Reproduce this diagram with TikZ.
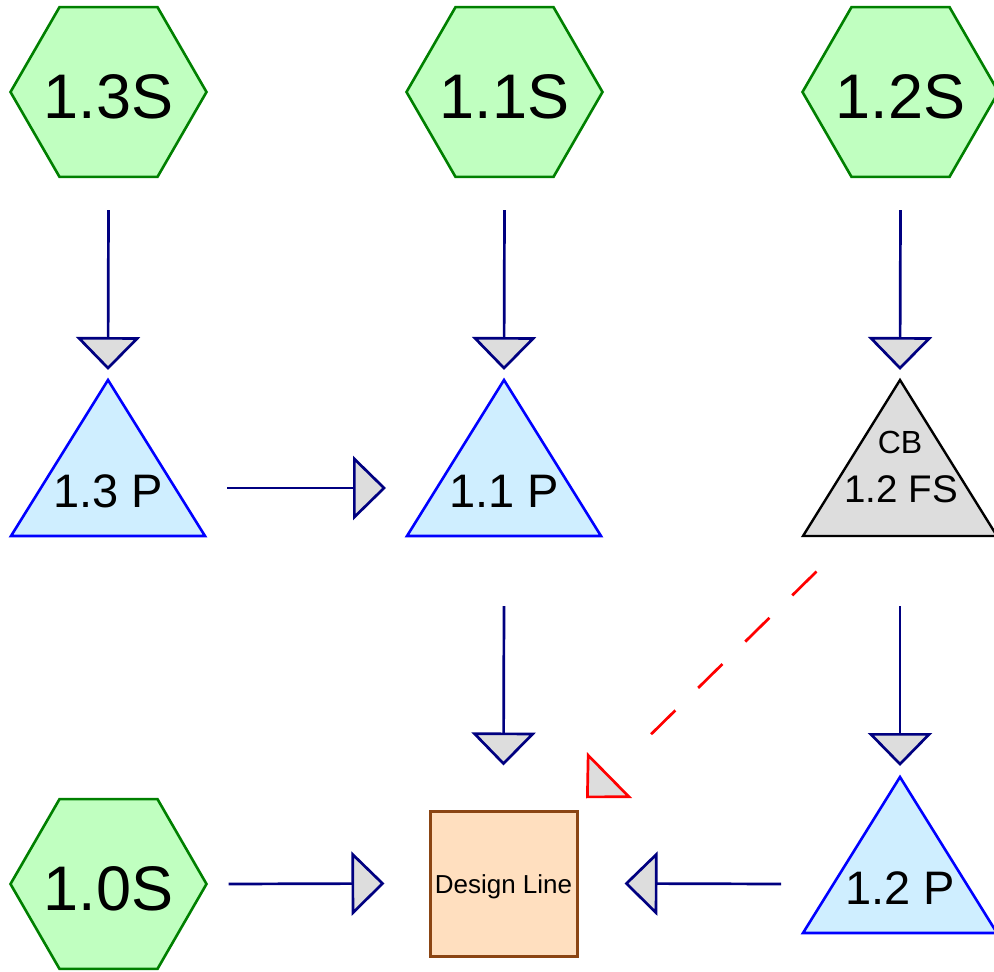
\documentclass[tikz,border=0pt]{standalone}
\usepackage{fontspec}
\setmainfont{Liberation Sans}
\usetikzlibrary{shapes.geometric,arrows.meta,calc}

\definecolor{hexfill}{HTML}{C0FFC0}
\definecolor{hexline}{HTML}{008000}
\definecolor{pfill}{HTML}{CFEEFF}
\definecolor{pline}{HTML}{0000FF}
\definecolor{cbfill}{HTML}{DDDDDD}
\definecolor{headfill}{HTML}{DDDDDD}
\definecolor{flowline}{HTML}{000080}
\definecolor{boxfill}{HTML}{FFDFBF}
\definecolor{boxline}{HTML}{8B4513}

% hexagon label: zero-width box so the polygon size is set by minimum size alone
\newcommand{\sitelabel}[1]{\makebox[0pt]{#1}}

\tikzset{
  site/.style={regular polygon, regular polygon sides=6, minimum size=196pt,
    inner sep=0pt, draw=hexline, fill=hexfill, line width=2.6pt,
    font=\fontsize{63}{63}\selectfont, text height=52pt, text depth=0pt},
  ptri/.style={draw=pline, fill=pfill, line width=2.6pt, line join=miter},
  cbtri/.style={draw=black, fill=cbfill, line width=2.4pt, line join=miter},
  ptext/.style={font=\fontsize{47}{47}\selectfont, anchor=base, inner sep=0pt},
  linebox/.style={draw=boxline, fill=boxfill, line width=3pt,
    minimum width=147pt, minimum height=145pt, inner sep=0pt,
    font=\fontsize{26}{26}\selectfont, text height=19pt, text depth=0pt},
  flow/.style={draw=flowline, line width=2.7pt,
    -{Triangle[length=33pt, width=64pt, fill=headfill]}},
  feedback/.style={draw=red, line width=2.7pt,
    dash pattern=on 34pt off 32pt on 34pt off 32pt on 34pt off 32pt on 34pt off 300pt,
    -{Triangle[length=33pt, width=64pt, fill=headfill]}}
}

\begin{document}
\begin{tikzpicture}[x=1pt, y=-1pt]
\useasboundingbox (0,0) rectangle (994,972);

% source hexagons
\node[site] (s13) at (108.5,92) {\sitelabel{1.3S}};
\node[site] (s11) at (504.5,92) {\sitelabel{1.1S}};
\node[site] (s12) at (900.5,92) {\sitelabel{1.2S}};
\node[site] (s10) at (108.5,884) {\sitelabel{1.0S}};

% triangle apexes
\coordinate (p13a) at (108,380);
\coordinate (p11a) at (504,380);
\coordinate (cba)  at (900,380);
\coordinate (p12a) at (900,777);

% triangles
\path[ptri]  (p13a) -- ++(97,156) -- ++(-194,0) -- cycle;
\path[ptri]  (p11a) -- ++(97,156) -- ++(-194,0) -- cycle;
\path[cbtri] (cba)  -- ++(97,156) -- ++(-194,0) -- cycle;
\path[ptri]  (p12a) -- ++(97,156) -- ++(-194,0) -- cycle;

\node[ptext] (p13) at (108,507) {1.3 P};
\node[ptext] (p11) at (504,507) {1.1 P};
\node[ptext] (p12) at (900,904) {1.2 P};
\node[anchor=base, inner sep=0pt, font=\fontsize{32}{32}\selectfont] (cbtag) at (900,453) {CB};
\node[anchor=base, inner sep=0pt, font=\fontsize{38.5}{38.5}\selectfont] (cb) at (901,502) {1.2 FS};

% design line box
\node[linebox] (dl) at (503.5,883.5) {Design Line};

% flows
\draw[flow] ($(s13.south)+(0,32)$) -- ($(p13a)+(0,-10)$);
\draw[flow] ($(s11.south)+(0,32)$) -- ($(p11a)+(0,-10)$);
\draw[flow] ($(s12.south)+(0,32)$) -- ($(cba)+(0,-10)$);
\draw[flow] ($(p13a)+(119,108)$) -- ($(p11a)+(-118,108)$);
\draw[flow] ($(p11a)+(0,226)$) -- ($(dl.north)+(0,-44)$);
\draw[flow] ($(cba)+(0,226)$) -- ($(p12a)+(0,-11)$);
\draw[flow] ($(s10.east)+(20.5,0)$) -- ($(dl.west)+(-44,0)$);
\draw[flow] ($(p12a)+(-119,107)$) -- ($(dl.east)+(46,0)$);
\draw[feedback] ($(cba)+(-83.5,191.5)$) -- ($(dl.north west)+(157.5,-11.25)$);
\end{tikzpicture}
\end{document}
